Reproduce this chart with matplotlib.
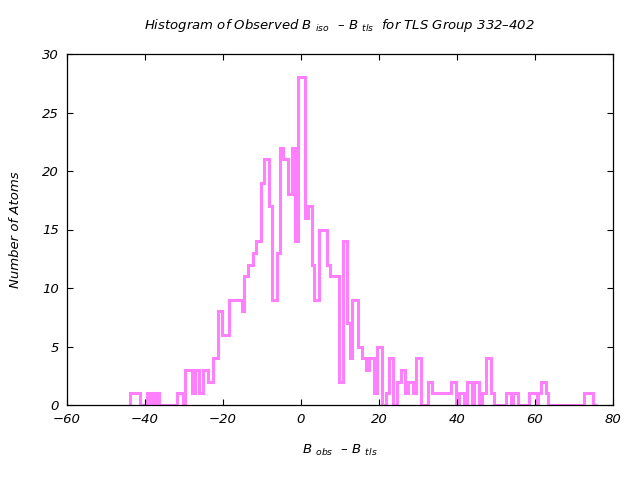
import matplotlib
matplotlib.use("Agg")
import matplotlib.pyplot as plt
import numpy as np

# step edges (B_obs - B_tls) and atom counts between them
edges = [-43.8, -41.3, -39.6, -38.7, -38.3, -37.4, -37.2, -36.3, -31.7, -30.2,
         -29.7, -28.0, -27.2, -26.2, -25.2, -23.8, -22.5, -21.4, -20.3, -18.4,
         -15.2, -14.6, -13.5, -12.4, -11.5, -10.3, -9.4, -8.2, -7.4, -6.2,
         -5.4, -4.5, -3.3, -2.4, -1.5, -0.7, 1.0, 1.9, 2.7, 3.3,
         4.7, 6.6, 7.4, 9.7, 10.8, 11.7, 12.6, 13.1, 14.7, 15.7,
         16.7, 17.5, 18.7, 19.4, 20.7, 21.8, 22.6, 23.5, 24.5, 25.6,
         26.7, 27.5, 28.6, 29.5, 30.7, 32.6, 33.5, 38.5, 39.7, 40.5,
         41.8, 42.5, 43.8, 44.4, 45.7, 46.3, 47.4, 48.7, 49.6, 52.5,
         53.8, 54.3, 55.7, 58.5, 60.4, 60.7, 61.5, 62.8, 63.3, 72.6,
         74.8, 75.8]
counts = [1, 0, 1, 0, 1, 0, 1, 0, 1, 0,
          3, 1, 3, 1, 3, 2, 4, 8, 6, 9,
          8, 11, 12, 13, 14, 19, 21, 17, 9, 13,
          22, 21, 18, 22, 14, 28, 16, 17, 12, 9,
          15, 12, 11, 2, 14, 7, 4, 9, 5, 4,
          3, 4, 1, 5, 0, 1, 4, 0, 2, 3,
          1, 2, 1, 4, 0, 2, 1, 2, 0, 1,
          0, 2, 0, 2, 0, 1, 4, 1, 0, 1,
          0, 1, 0, 1, 0, 1, 2, 1, 0, 1,
          0]

plt.rcParams['font.family'] = 'DejaVu Sans'
plt.rcParams['font.style'] = 'italic'
plt.rcParams['mathtext.fontset'] = 'dejavusans'
plt.rcParams['mathtext.default'] = 'it'

fig = plt.figure(figsize=(6.4, 4.8), dpi=100)
ax = fig.add_axes([67/640, 1-405/480, (613-67)/640, (405-54)/480])

ax.stairs(counts, edges, baseline=0, color='#ff7fff', linewidth=2.2)

ax.set_xlim(-60, 80)
ax.set_ylim(0, 30)
ax.set_xticks(np.arange(-60, 81, 20))
ax.set_yticks(np.arange(0, 31, 5))
ax.tick_params(direction='in', length=4, width=0.8, top=True, right=True,
               labelsize=9.5, pad=6)
for lab in ax.get_xticklabels() + ax.get_yticklabels():
    lab.set_fontstyle('italic')
for sp in ax.spines.values():
    sp.set_linewidth(0.9)

ax.set_title(r"Histogram of Observed B $_{iso}$  – B $_{tls}$  for TLS Group 332–402",
             fontsize=9.5, style='italic', pad=18)
ax.set_xlabel(r"B $_{obs}$  – B $_{tls}$", fontsize=9.5, style='italic', labelpad=12)
ax.set_ylabel("Number of Atoms", fontsize=9.5, style='italic', labelpad=14)

fig.savefig('out.png', dpi=100)
